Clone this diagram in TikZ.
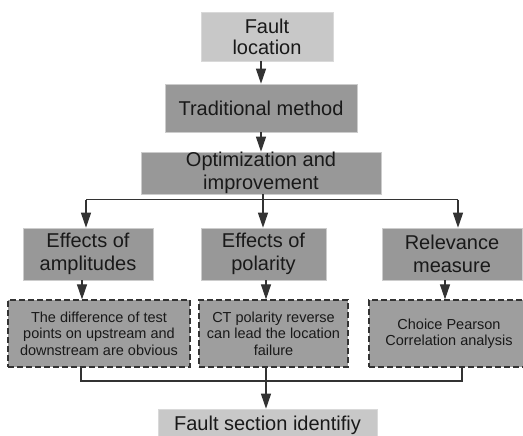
\documentclass[tikz,border=0pt]{standalone}
\usepackage{fontspec}
\setmainfont{Liberation Sans}
\usetikzlibrary{arrows.meta,positioning,calc}
\definecolor{lightbox}{RGB}{200,200,200}
\definecolor{darkbox}{RGB}{152,152,152}
\definecolor{noteboxfill}{RGB}{158,158,158}

\begin{document}
\begin{tikzpicture}[x=1pt,y=-1pt,
 lightstep/.style={rectangle,fill=lightbox,draw=black!15,line width=0.6pt,align=center,inner sep=0pt,font=\fontsize{20}{21}\selectfont,text=black!90},
 darkstep/.style={rectangle,fill=darkbox,draw=black!20,line width=0.6pt,align=center,inner sep=0pt,font=\fontsize{20}{22.5}\selectfont,text=black!90},
 notebox/.style={rectangle,fill=noteboxfill,draw=black!80,dashed,dash pattern=on 6pt off 3pt,line width=1.2pt,align=center,inner sep=0pt,font=\fontsize{14.5}{16.5}\selectfont,text=black!90},
 edge/.style={line width=1.1pt,draw=black!80},
 arrow/.style={edge,-{Triangle[length=15pt,width=10pt]}}]
\useasboundingbox (0,0) rectangle (523,436);

\node(loc)[lightstep,minimum width=132pt,minimum height=49pt] at (267,36.5) {Fault\\location};
\node(trad)[darkstep,minimum width=192pt,minimum height=48pt] at (261,108) {Traditional method};
\node(opt)[darkstep,minimum width=240pt,minimum height=42pt] at (261,173) {Optimization and\\improvement};

\node(amp)[darkstep,minimum width=130pt,minimum height=52pt] at (88,254) {Effects of\\amplitudes};
\node(pol)[darkstep,minimum width=125pt,minimum height=52pt] at (263.5,254) {Effects of\\polarity};
\node(rel)[darkstep,minimum width=140pt,minimum height=52pt] at (452,254) {Relevance\\measure};

\node(diff)[notebox,minimum width=182pt,minimum height=67pt] at (99,333.5) {The difference of test\\points on upstream and\\downstream are obvious};
\node(ct)[notebox,minimum width=149pt,minimum height=67pt] at (273.5,333.5) {CT polarity reverse\\can lead the location\\failure};
\node(pear)[notebox,minimum width=160pt,minimum height=67pt] at (449,333.5) {Choice Pearson\\Correlation analysis};

\node(sec)[lightstep,minimum width=219pt,minimum height=32pt] at (267.5,425) {Fault section identifiy};

\coordinate(top) at (263,199.5);
\coordinate(b1) at (86,199.5);
\coordinate(b3) at (458,199.5);
\coordinate(low) at (266,381);
\coordinate(l1) at (81,381);
\coordinate(l3) at (462,381);

\draw [arrow] (trad.north |- loc.south) to (trad.north);
\draw [arrow] (opt.north |- trad.south) to (opt.north);
\draw [edge] (top |- opt.south) to (top);
\draw [edge] (b1) to (b3);
\draw [arrow] (b1) to (b1 |- amp.north);
\draw [arrow] (top) to (top |- pol.north);
\draw [arrow] (b3) to (b3 |- rel.north);

\draw [arrow] (amp.south -| 82,0) to (diff.north -| 82,0);
\draw [arrow] (pol.south -| low) to (ct.north -| low);
\draw [arrow] (rel.south -| 445,0) to (pear.north -| 445,0);

\draw [edge] (l1 |- diff.south) to (l1) to (l3) to (l3 |- pear.south);
\draw [arrow] (low |- ct.south) to (sec.north -| low);
\end{tikzpicture}
\end{document}
